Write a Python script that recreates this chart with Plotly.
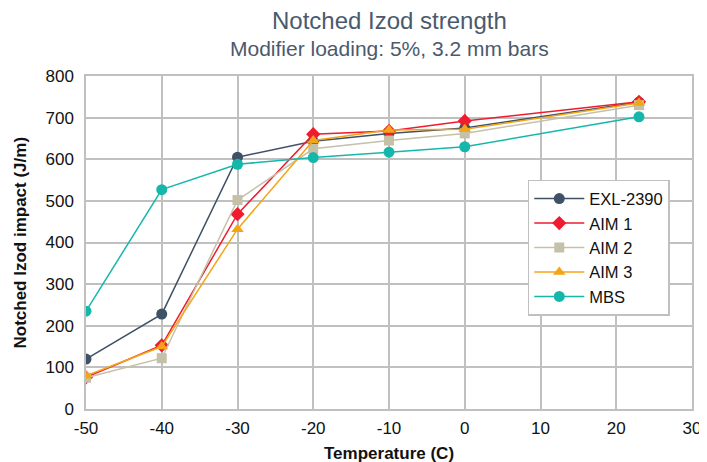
import plotly.graph_objects as go

temps = [-50, -40, -30, -20, -10, 0, 23]
exl_2390 = [120, 228, 605, 643, 662, 675, 737]
aim_1 = [76, 153, 468, 660, 668, 692, 738]
aim_2 = [75, 122, 502, 625, 645, 662, 730]
aim_3 = [80, 150, 432, 645, 670, 672, 735]
mbs = [235, 527, 588, 604, 617, 630, 702]

x_ticks = [-50, -40, -30, -20, -10, 0, 10, 20, 30]
x_tick_labels = ["-50", "-40", "-30", "-20", "-10", "0", "10", "20", "30"]

series = [
    ("EXL-2390", exl_2390, "#3f5167", "circle", 11),
    ("AIM 1", aim_1, "#ee1c2e", "diamond", 11),
    ("AIM 2", aim_2, "#c5c0a8", "square", 10),
    ("AIM 3", aim_3, "#f4a517", "triangle-up", 11),
    ("MBS", mbs, "#16b7ab", "circle", 11),
]

fig = go.Figure()
for name, vals, color, sym, size in series:
    fig.add_trace(go.Scatter(
        x=temps, y=vals, name=name, mode="lines+markers",
        line=dict(color=color, width=1.5),
        marker=dict(color=color, symbol=sym, size=size),
    ))

font = "Liberation Sans, Arial, sans-serif"
title_color = "#4a5a6e"
fig.update_layout(
    width=699, height=454,
    paper_bgcolor="white", plot_bgcolor="white",
    margin=dict(l=78, r=15, t=68, b=53),
    font=dict(family=font, size=17, color="#111111"),
    xaxis=dict(
        range=[-50, 30], tickvals=x_ticks, ticktext=x_tick_labels,
        showgrid=True, gridcolor="#c0c0c0", gridwidth=1.5,
        zeroline=False, showline=True, linecolor="#c0c0c0", linewidth=1.5,
        tickfont=dict(size=17), ticks="outside", ticklen=3, tickcolor="rgba(0,0,0,0)",
        automargin=False, mirror=True,
    ),
    yaxis=dict(
        range=[0, 800], dtick=100, showgrid=True, gridcolor="#c0c0c0", gridwidth=1.5,
        zeroline=False, showline=True, linecolor="#c0c0c0", linewidth=1.5,
        tickfont=dict(size=17), ticks="outside", ticklen=7, tickcolor="rgba(0,0,0,0)",
        automargin=False, mirror=True,
    ),
    legend=dict(
        x=0.729, y=0.688, xanchor="left", yanchor="top",
        bgcolor="white", bordercolor="#c0c0c0", borderwidth=1.5,
        font=dict(size=16.5), tracegroupgap=0, itemwidth=50, entrywidth=97,
    ),
    annotations=[
        dict(text="Notched Izod strength", xref="paper", yref="paper",
             x=0.5, y=1, yshift=56, xanchor="center", yanchor="middle",
             showarrow=False, font=dict(family=font, size=24, color=title_color)),
        dict(text="Modifier loading: 5%, 3.2 mm bars", xref="paper", yref="paper",
             x=0.5, y=1, yshift=28, xanchor="center", yanchor="middle",
             showarrow=False, font=dict(family=font, size=21, color=title_color)),
        dict(text="<b>Temperature (C)</b>", xref="paper", yref="paper",
             x=0.5, y=0, yshift=-44, xanchor="center", yanchor="middle",
             showarrow=False, font=dict(family=font, size=17, color="#111111")),
        dict(text="<b>Notched Izod impact (J/m)</b>", xref="paper", yref="paper",
             x=0, xshift=-66, y=0.5, xanchor="center", yanchor="middle", textangle=-90,
             showarrow=False, font=dict(family=font, size=17, color="#111111")),
    ],
)

fig.write_html("out.html")
